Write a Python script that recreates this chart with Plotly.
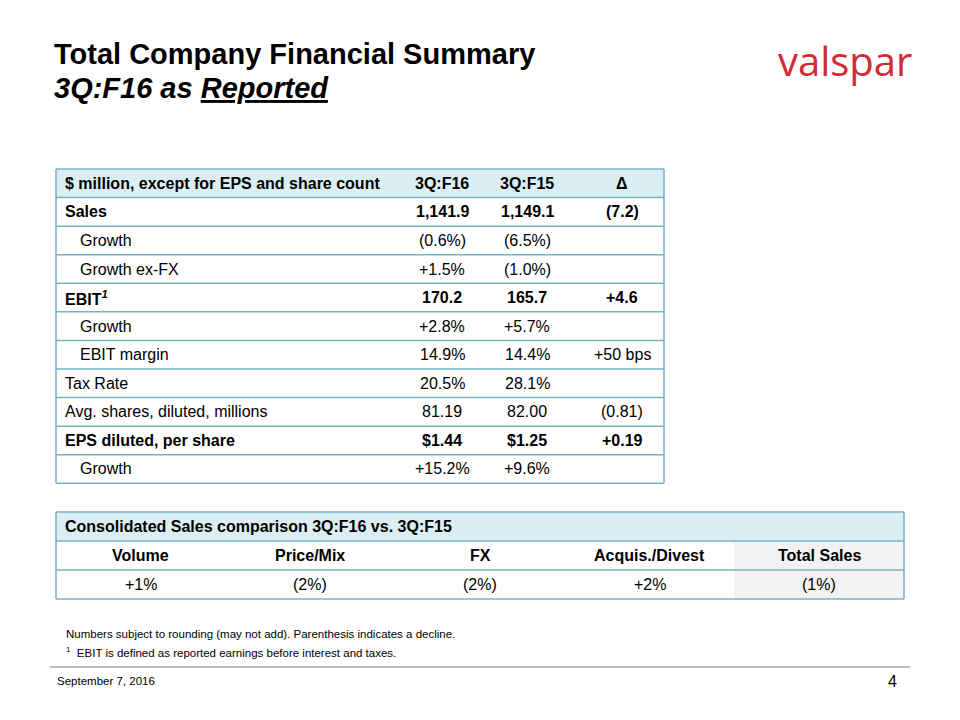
import plotly.graph_objects as go

# ---------------- data ----------------
title_line1 = "Total Company Financial Summary"
title_line2 = "3Q:F16 as "
title_underlined = "Reported"
logo_text = "valspar"

t1_columns = ["$ million, except for EPS and share count", "3Q:F16", "3Q:F15", "Δ"]
t1_labels = ["Sales", "Growth", "Growth ex-FX", "EBIT<sup><i>1</i></sup>", "Growth", "EBIT margin",
             "Tax Rate", "Avg. shares, diluted, millions", "EPS diluted, per share", "Growth"]
t1_q3f16 = ["1,141.9", "(0.6%)", "+1.5%", "170.2", "+2.8%", "14.9%", "20.5%", "81.19", "$1.44", "+15.2%"]
t1_q3f15 = ["1,149.1", "(6.5%)", "(1.0%)", "165.7", "+5.7%", "14.4%", "28.1%", "82.00", "$1.25", "+9.6%"]
t1_delta = ["(7.2)", "", "", "+4.6", "", "+50 bps", "", "(0.81)", "+0.19", ""]
t1_bold = [True, False, False, True, False, False, False, False, True, False]
t1_indent = [False, True, True, False, True, True, False, False, False, True]

t2_title = "Consolidated Sales comparison 3Q:F16 vs. 3Q:F15"
t2_headers = ["Volume", "Price/Mix", "FX", "Acquis./Divest", "Total Sales"]
t2_values = ["+1%", "(2%)", "(2%)", "+2%", "(1%)"]
t2_highlight = [False, False, False, False, True]

footnote1 = "Numbers subject to rounding (may not add). Parenthesis indicates a decline."
footnote2 = "EBIT is defined as reported earnings before interest and taxes."
date_text = "September 7, 2016"
page_number = "4"

# ---------------- style ----------------
FONT = "Liberation Sans, Arial, sans-serif"
BORDER = "#74b4c6"
HEAD_FILL = "#daeef3"
GRAY_FILL = "#f2f2f2"
TXT = "#000000"

fig = go.Figure()
shapes = []
ann = []


def text(x, y, s, size=16, bold=False, anchor="left", color=TXT, family=FONT, italic=False):
    if italic:
        s = "<i>" + s + "</i>"
    if bold:
        s = "<b>" + s + "</b>"
    ann.append(dict(x=x, y=y, xref="x", yref="y", text=s, showarrow=False,
                    xanchor=anchor, yanchor="middle",
                    font=dict(family=family, size=size, color=color)))


def hline(x0, x1, y, color=BORDER, width=1.5):
    shapes.append(dict(type="line", xref="x", yref="y", x0=x0, x1=x1, y0=y, y1=y,
                       line=dict(color=color, width=width)))


def vline(x, y0, y1, color=BORDER, width=1.5):
    shapes.append(dict(type="line", xref="x", yref="y", x0=x, x1=x, y0=y0, y1=y1,
                       line=dict(color=color, width=width)))


def rect(x0, x1, y0, y1, fill):
    shapes.append(dict(type="rect", xref="x", yref="y", x0=x0, x1=x1, y0=y0, y1=y1,
                       fillcolor=fill, line=dict(width=0), layer="below"))


# ---------------- title & logo ----------------
text(52, 54, title_line1, size=29, bold=True)
text(52, 88, title_line2 + "<u>" + title_underlined + "</u>", size=29, bold=True, italic=True)
text(845, 60, logo_text, size=40, anchor="center", color="#d42a36", family="Open Sans, Noto Sans, sans-serif")

# ---------------- table 1 ----------------
L1, R1 = 56, 664
top1 = 169
rh = 28.57
col_centers = [442, 527, 622]
nrows = len(t1_labels) + 1
rect(L1, R1, top1, top1 + rh, HEAD_FILL)
for i in range(nrows + 1):
    hline(L1, R1, top1 + i * rh)
vline(L1, top1, top1 + nrows * rh)
vline(R1, top1, top1 + nrows * rh)

yc = top1 + rh / 2
text(63, yc, t1_columns[0], bold=True)
for cx, h in zip(col_centers, t1_columns[1:]):
    text(cx, yc, h, bold=True, anchor="center")

for i, lab in enumerate(t1_labels):
    yc = top1 + (i + 1.5) * rh
    b = t1_bold[i]
    text(78 if t1_indent[i] else 63, yc, lab, bold=b)
    for cx, v in zip(col_centers, (t1_q3f16[i], t1_q3f15[i], t1_delta[i])):
        if v:
            text(cx, yc, v, bold=b, anchor="center")

# ---------------- table 2 ----------------
L2, R2 = 56, 904
top2 = 512
rh2 = 29
ncols = len(t2_headers)
cw = (R2 - L2) / ncols
rect(L2, R2, top2, top2 + rh2, HEAD_FILL)
for j, hl in enumerate(t2_highlight):
    if hl:
        rect(L2 + j * cw, L2 + (j + 1) * cw, top2 + rh2, top2 + 3 * rh2, GRAY_FILL)
for i in range(4):
    hline(L2, R2, top2 + i * rh2)
vline(L2, top2, top2 + 3 * rh2)
vline(R2, top2, top2 + 3 * rh2)
text(63, top2 + rh2 / 2, t2_title, bold=True)
for j, (h, v) in enumerate(zip(t2_headers, t2_values)):
    cx = L2 + (j + 0.5) * cw
    text(cx, top2 + 1.5 * rh2, h, bold=True, anchor="center")
    text(cx, top2 + 2.5 * rh2, v, anchor="center")

# ---------------- footnotes & footer ----------------
text(64, 634, footnote1, size=11.5)
text(64, 652, "<sup>1</sup>  " + footnote2, size=11.5)
hline(50, 910, 667, color="#a6a6a6", width=1.5)
text(55, 681, date_text, size=11.5)
text(899, 681, page_number, size=16, anchor="right")

fig.update_layout(
    width=960, height=720,
    margin=dict(l=0, r=0, t=0, b=0),
    paper_bgcolor="white", plot_bgcolor="white",
    xaxis=dict(range=[0, 960], visible=False, fixedrange=True),
    yaxis=dict(range=[720, 0], visible=False, fixedrange=True),
    shapes=shapes, annotations=ann, showlegend=False,
)

fig.write_html("out.html", config={"displayModeBar": False},
               post_script="document.body.style.margin='0px';")
